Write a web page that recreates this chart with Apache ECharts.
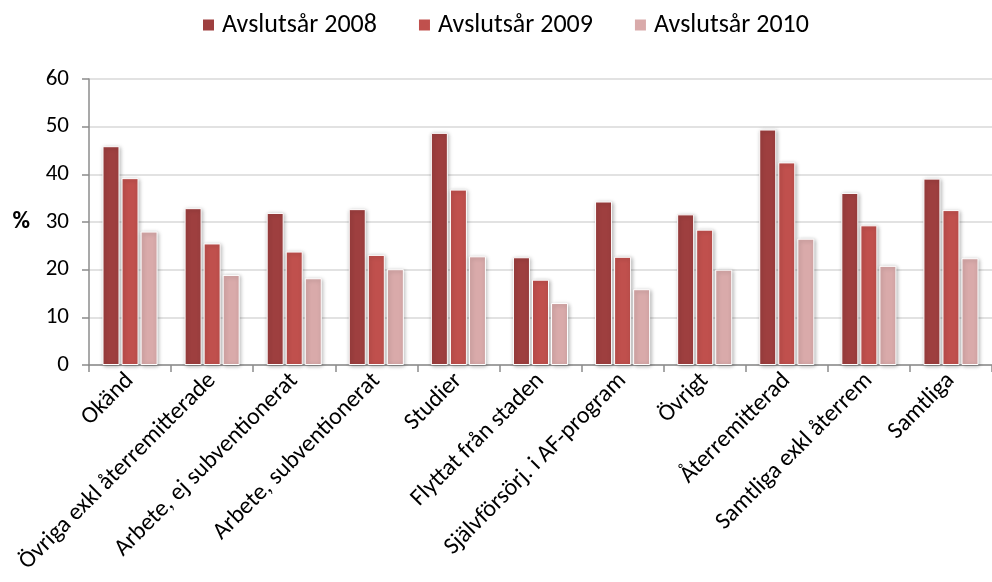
<!DOCTYPE html>
<html>
<head>
<meta charset="utf-8">
<script src="https://cdn.jsdelivr.net/npm/echarts@6/dist/echarts.min.js"></script>
<style>
html,body{margin:0;padding:0;background:#fff;}
#c{width:992px;height:582px;}
</style>
</head>
<body>
<div id="c"></div>
<script>
const categories = ["Okänd","Övriga exkl återremitterade","Arbete, ej subventionerat","Arbete, subventionerat","Studier","Flyttat från staden","Självförsörj. i AF-program","Övrigt","Återremitterad","Samtliga exkl återrem","Samtliga"];
const seriesNames = ["Avslutsår 2008","Avslutsår 2009","Avslutsår 2010"];
const values2008 = [45.9, 32.9, 31.9, 32.7, 48.7, 22.6, 34.3, 31.6, 49.4, 36.1, 39.1];
const values2009 = [39.2, 25.5, 23.8, 23.1, 36.8, 17.9, 22.7, 28.4, 42.5, 29.3, 32.5];
const values2010 = [28.0, 18.9, 18.2, 20.1, 22.8, 13.0, 15.9, 20.0, 26.5, 20.8, 22.4];
const yTicks = [0, 10, 20, 30, 40, 50, 60];

const colors = ["#9e3f3f", "#c0504d", "#d9aaaa"];
const font = "Carlito, Lato, sans-serif";
const chart = echarts.init(document.getElementById('c'));
const mk = (name, data, i) => ({
  name, type: 'bar', data, barWidth: 17, barGap: '12%',
  itemStyle: {color: colors[i], borderColor: '#fff', borderWidth: 1,
    shadowBlur: 4, shadowColor: 'rgba(0,0,0,0.3)', shadowOffsetX: 1, shadowOffsetY: 1},
  emphasis: {disabled: true}
});
chart.setOption({
  animation: false,
  color: colors,
  legend: {
    top: 7, left: 196, itemWidth: 13, itemHeight: 13, itemGap: 40,
    icon: 'rect',
    textStyle: {fontFamily: font, fontSize: 26, color: '#000', padding: [0,0,0,2]},
    data: seriesNames
  },
  grid: {left: 89, top: 79, height: 286, width: 914},
  xAxis: {
    type: 'category', data: categories,
    axisLine: {lineStyle: {color: '#8c8c8c', width: 1.5}},
    axisTick: {show: true, length: 7, lineStyle: {color: '#8c8c8c', width: 1.5}, alignWithLabel: false},
    axisLabel: {rotate: 45, interval: 0, margin: 12, fontFamily: font, fontSize: 24, color: '#000'}
  },
  yAxis: {
    type: 'value', min: yTicks[0], max: yTicks[yTicks.length-1], interval: 10,
    name: '%', nameLocation: 'middle', nameRotate: 0, nameGap: 59,
    nameTextStyle: {fontFamily: font, fontSize: 24, fontWeight: 'bold', color: '#000'},
    axisLine: {show: true, lineStyle: {color: '#8c8c8c', width: 1.5}},
    axisTick: {show: true, length: 7, lineStyle: {color: '#8c8c8c', width: 1.5}},
    axisLabel: {margin: 20, fontFamily: font, fontSize: 23, color: '#000'},
    splitLine: {lineStyle: {color: '#d9d9d9', width: 1.5}}
  },
  series: [mk(seriesNames[0], values2008, 0), mk(seriesNames[1], values2009, 1), mk(seriesNames[2], values2010, 2)]
});
</script>
</body>
</html>
